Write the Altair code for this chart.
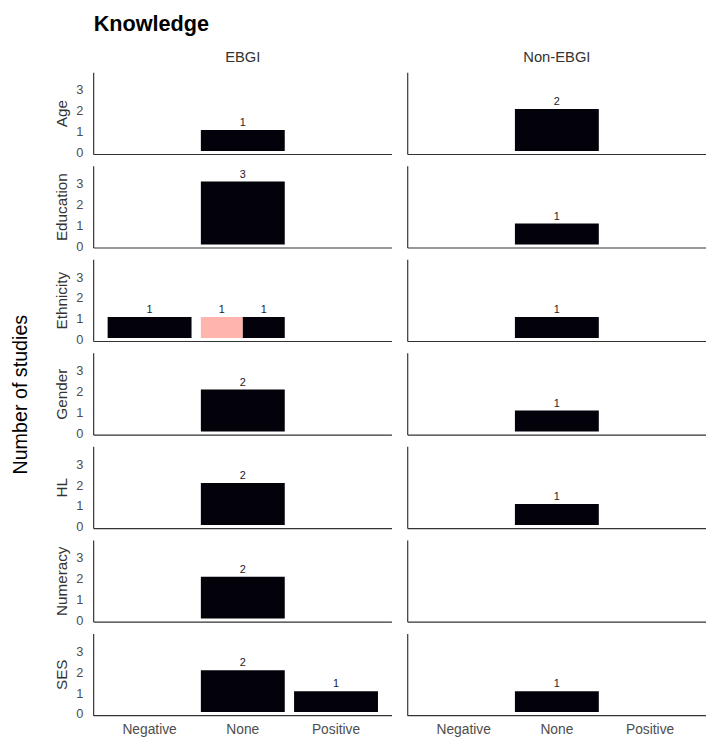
import altair as alt
import pandas as pd

# ---- data ----
factors = ["Age", "Education", "Ethnicity", "Gender", "HL", "Numeracy", "SES"]
groups = ["EBGI", "Non-EBGI"]
effects = ["Negative", "None", "Positive"]

rec_factor = ["Age", "Age", "Education", "Education", "Ethnicity", "Ethnicity", "Ethnicity", "Ethnicity",
              "Gender", "Gender", "HL", "HL", "Numeracy", "Numeracy", "SES", "SES", "SES"]
rec_group = ["EBGI", "Non-EBGI", "EBGI", "Non-EBGI", "EBGI", "EBGI", "EBGI", "Non-EBGI",
             "EBGI", "Non-EBGI", "EBGI", "Non-EBGI", "EBGI", "Non-EBGI", "EBGI", "EBGI", "Non-EBGI"]
rec_effect = ["None", "None", "None", "None", "Negative", "None", "None", "None",
              "None", "None", "None", "None", "None", "None", "None", "Positive", "None"]
rec_n = [1, 2, 3, 1, 1, 1, 1, 1, 2, 1, 2, 1, 2, 0, 2, 1, 1]
rec_kind = ["b", "b", "b", "b", "b", "a", "b", "b", "b", "b", "b", "b", "b", "b", "b", "b", "b"]
rec_slot = ["full", "full", "full", "full", "full", "s1", "s2", "full",
            "full", "full", "full", "full", "full", "full", "full", "full", "full"]

df = pd.DataFrame({
    "factor": rec_factor, "group": rec_group, "effect": rec_effect,
    "n": rec_n, "kind": rec_kind, "slot": rec_slot,
})
df["first"] = ~df.duplicated(["factor", "group"])

FONT = "Liberation Sans"
W, H = 303, 83

xscale = alt.Scale(domain=effects, paddingInner=0.1, paddingOuter=0.15)
yscale = alt.Scale(domain=[-0.17, 3.73], nice=False, zero=False)
cscale = alt.Scale(domain=["a", "b"], range=["#FFB4AE", "#03020A"])
oscale = alt.Scale(domain=["s1", "s2"], paddingInner=0, paddingOuter=0)

x_enc = alt.X("effect:N", scale=xscale, sort=effects, title=None,
              axis=alt.Axis(domain=False, ticks=False, labelAngle=0, labelFontSize=14,
                            labelColor="#4D4D4D", labelPadding=6, labelFont=FONT))
y_enc = alt.Y("n:Q", scale=yscale, title=None,
              axis=alt.Axis(values=[0, 1, 2, 3], domain=False, ticks=False, grid=False,
                            labelFontSize=13, labelColor="#4D4D4D", labelPadding=10,
                            labelFont=FONT, labelOffset=2))

base = alt.Chart().encode(x=x_enc)

full_bars = base.transform_filter("datum.slot == 'full' && datum.n > 0").mark_bar().encode(
    y=y_enc, y2=alt.datum(0),
    color=alt.Color("kind:N", scale=cscale, legend=None),
)
split_bars = base.transform_filter("datum.slot != 'full'").mark_bar().encode(
    y=y_enc, y2=alt.datum(0),
    xOffset=alt.XOffset("slot:N", scale=oscale),
    color=alt.Color("kind:N", scale=cscale, legend=None),
)
full_text = base.transform_filter("datum.slot == 'full' && datum.n > 0").mark_text(
    baseline="bottom", dy=-2, fontSize=11, font=FONT, color="#1A1A2A").encode(
    y=y_enc, text="n:Q")
split_text = base.transform_filter("datum.slot != 'full'").mark_text(
    baseline="bottom", dy=-2, fontSize=11, font=FONT, color="#1A1A2A").encode(
    y=y_enc, text="n:Q",
    xOffset=alt.XOffset("slot:N", scale=oscale))

bottom_line = alt.Chart().transform_filter("datum.first").mark_rule(color="#333333", strokeWidth=1.2).encode(
    x=alt.value(0), x2=alt.value(W), y=alt.value(H))
left_line = alt.Chart().transform_filter("datum.first").mark_rule(color="#333333", strokeWidth=1.2).encode(
    x=alt.value(0), y=alt.value(0), y2=alt.value(H))

layered = alt.layer(full_bars, split_bars, full_text, split_text, bottom_line, left_line).properties(
    width=W, height=H)

chart = layered.facet(
    data=df,
    row=alt.Row("factor:N", sort=factors,
                header=alt.Header(title="Number of studies", titleOrient="left", titleFontSize=20,
                                  titleFontWeight="normal", titleColor="#000000", titleFont=FONT,
                                  titlePadding=15,
                                  labelOrient="left", labelAngle=-90, labelFontSize=15.5,
                                  labelColor="#333333", labelFont=FONT, labelPadding=-2)),
    column=alt.Column("group:N", sort=groups,
                      header=alt.Header(title=None, labelFontSize=15, labelColor="#333333",
                                        labelFont=FONT, labelPadding=7)),
    spacing={"row": 10, "column": 14},
).properties(
    title=alt.TitleParams("Knowledge", anchor="start", fontSize=22, fontWeight="bold",
                          font=FONT, color="#000000", dx=84, offset=14),
    padding={"left": 2, "top": 0, "right": 0, "bottom": 0},
).configure_view(stroke=None)

chart.save("out.html", embed_options={"renderer": "svg", "actions": False})
